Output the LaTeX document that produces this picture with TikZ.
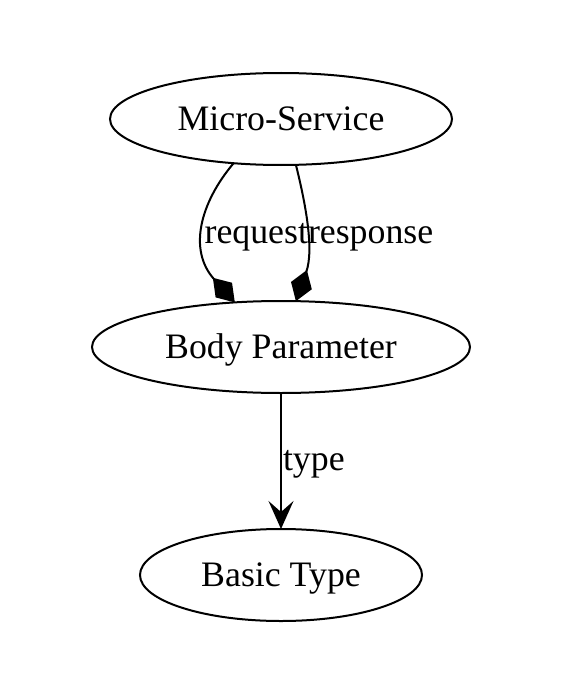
\documentclass[tikz,border=0pt]{standalone}
\usepackage{fontspec}
\setmainfont{Liberation Serif}
\usetikzlibrary{arrows.meta,shapes.geometric}
\begin{document}
\begin{tikzpicture}[x=1pt,y=-1pt,
  every node/.style={font=\fontsize{35.8}{40}\selectfont},
  ent/.style={ellipse,draw,line width=2pt,inner sep=0pt,outer sep=0pt,minimum height=92pt,text height=30pt,text depth=8pt},
  conn/.style={line width=2pt},
  lbl/.style={inner sep=0pt,outer sep=0pt},
  diam/.style={-{Diamond[length=33pt,width=22pt]}},
  veearrow/.style={-{Stealth[length=28pt,width=25pt,inset=11pt]}}]
\useasboundingbox (0,0) rectangle (566,690);
\node[ent,minimum width=342pt] (ms) at (281,119) {Micro-Service};
\node[ent,minimum width=378pt] (bp) at (281,347) {Body Parameter};
\node[ent,minimum width=282pt] (bt) at (281,575) {Basic Type};
\draw[conn,diam] (ms.223) .. controls (200,203) and (188,250) .. (bp.136);
\draw[conn,diam] (ms.-72) .. controls (306,205) and (314,250) .. (bp.72);
\draw[conn,veearrow] (bp.south) -- (bt.north);
\node[lbl,anchor=base east] (lreq) at (308,243) {request};
\node[lbl,anchor=base west] (lres) at (308,243) {response};
\node[lbl,anchor=base west] (ltype) at (283,470) {type};
\end{tikzpicture}
\end{document}
